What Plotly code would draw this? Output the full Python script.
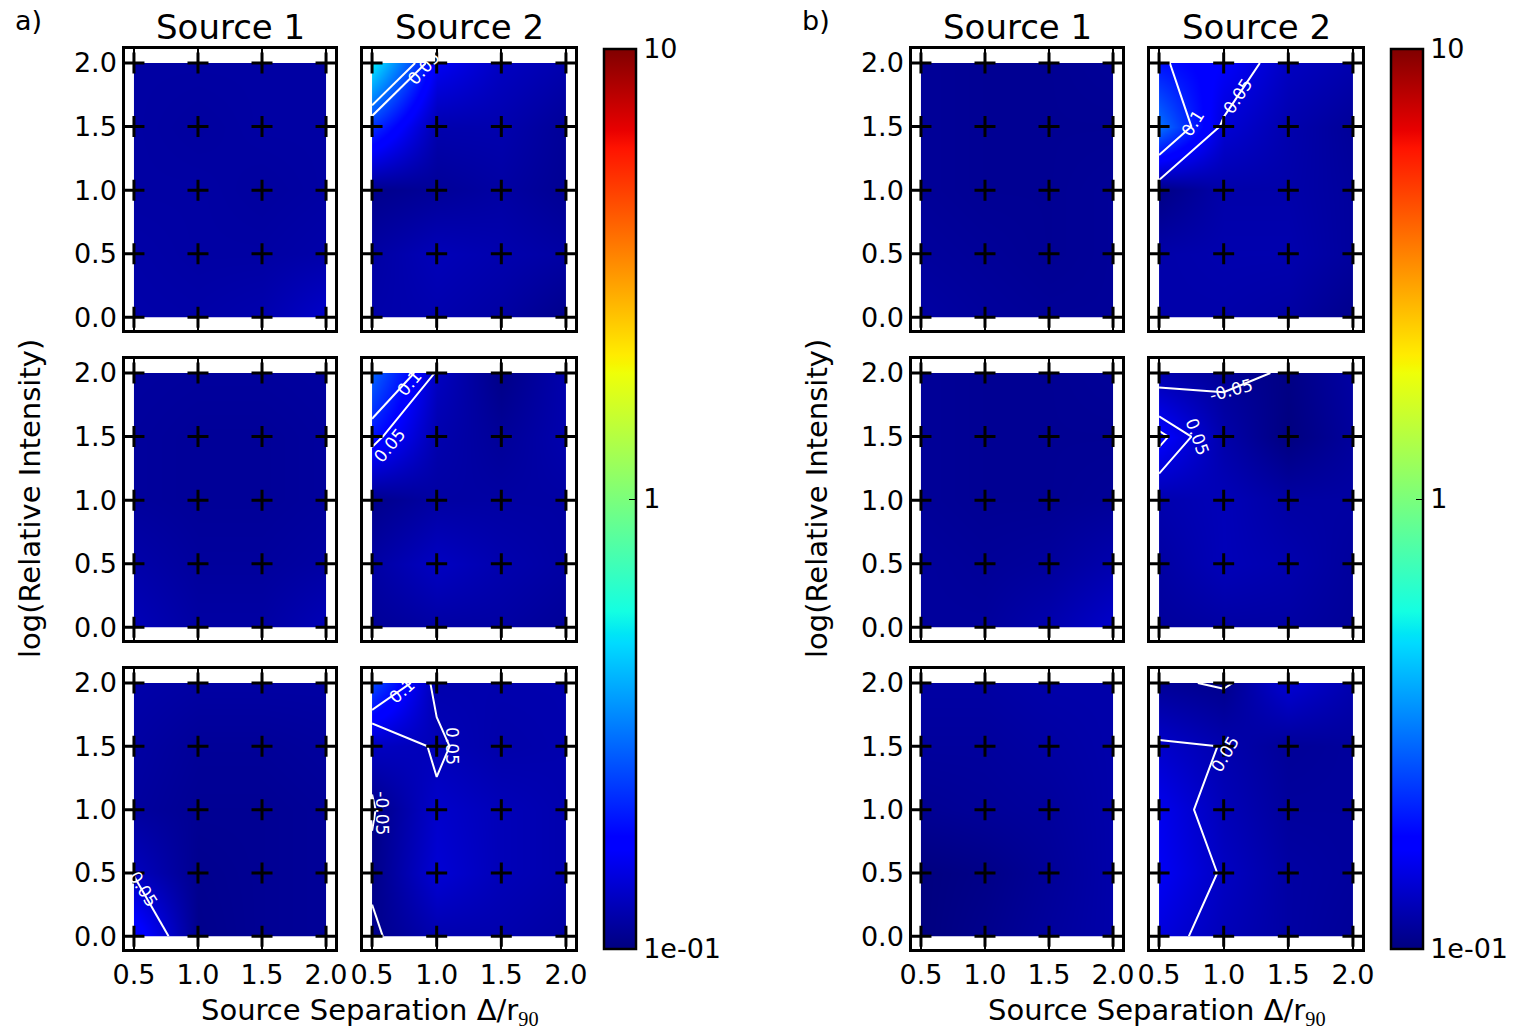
import numpy as np
import plotly.graph_objects as go

# ---------------- data ----------------
SEP = [0.5, 1.0, 1.5, 2.0]              # source separation (x)
LOGI = [0.0, 0.5, 1.0, 1.5, 2.0]        # log relative intensity (y)
X_TICKS = [0.5, 1.0, 1.5, 2.0]
Y_TICKS = [0.0, 0.5, 1.0, 1.5, 2.0]
CB_TICKVALS = [0.1, 1, 10]
CB_TICKTEXT = ['1e-01', '1', '10']
CONTOUR_LEVELS = [-0.05, 0.05, 0.1]
COL_TITLES = ['Source 1', 'Source 2']
GROUP_LABELS = ['a)', 'b)']

# error maps: rows follow LOGI (bottom -> top), columns follow SEP
a_r1_s1 = [[0.118, 0.117, 0.120, 0.135],
           [0.117, 0.115, 0.115, 0.118],
           [0.115, 0.115, 0.113, 0.115],
           [0.115, 0.113, 0.115, 0.115],
           [0.115, 0.115, 0.115, 0.115]]
a_r1_s2 = [[0.118, 0.120, 0.115, 0.105],
           [0.115, 0.125, 0.120, 0.115],
           [0.105, 0.110, 0.115, 0.108],
           [0.220, 0.120, 0.120, 0.110],
           [0.520, 0.160, 0.130, 0.120]]
a_r2_s1 = [[0.125, 0.115, 0.115, 0.125],
           [0.118, 0.112, 0.112, 0.115],
           [0.112, 0.110, 0.110, 0.112],
           [0.112, 0.110, 0.110, 0.112],
           [0.113, 0.112, 0.112, 0.113]]
a_r2_s2 = [[0.110, 0.115, 0.115, 0.110],
           [0.115, 0.130, 0.120, 0.115],
           [0.105, 0.115, 0.115, 0.115],
           [0.190, 0.120, 0.110, 0.120],
           [0.280, 0.130, 0.103, 0.120]]
a_r3_s1 = [[0.185, 0.105, 0.108, 0.110],
           [0.128, 0.106, 0.108, 0.110],
           [0.113, 0.108, 0.108, 0.110],
           [0.115, 0.110, 0.110, 0.112],
           [0.118, 0.115, 0.115, 0.115]]
a_r3_s2 = [[0.105, 0.120, 0.120, 0.115],
           [0.103, 0.140, 0.125, 0.120],
           [0.103, 0.135, 0.125, 0.120],
           [0.130, 0.125, 0.118, 0.120],
           [0.250, 0.120, 0.120, 0.120]]
b_r1_s1 = [[0.115, 0.112, 0.110, 0.110],
           [0.112, 0.110, 0.108, 0.110],
           [0.110, 0.108, 0.108, 0.110],
           [0.110, 0.108, 0.108, 0.108],
           [0.110, 0.108, 0.108, 0.110]]
b_r1_s2 = [[0.118, 0.118, 0.115, 0.105],
           [0.118, 0.120, 0.120, 0.112],
           [0.102, 0.118, 0.118, 0.112],
           [0.300, 0.140, 0.120, 0.110],
           [0.190, 0.165, 0.130, 0.120]]
b_r2_s1 = [[0.112, 0.112, 0.120, 0.135],
           [0.112, 0.110, 0.112, 0.120],
           [0.110, 0.108, 0.108, 0.110],
           [0.110, 0.108, 0.108, 0.108],
           [0.110, 0.108, 0.108, 0.110]]
b_r2_s2 = [[0.112, 0.115, 0.115, 0.110],
           [0.115, 0.125, 0.120, 0.112],
           [0.120, 0.125, 0.115, 0.115],
           [0.170, 0.118, 0.100, 0.112],
           [0.120, 0.110, 0.102, 0.115]]
b_r3_s1 = [[0.100, 0.105, 0.112, 0.118],
           [0.100, 0.103, 0.110, 0.118],
           [0.108, 0.110, 0.112, 0.118],
           [0.112, 0.112, 0.115, 0.118],
           [0.115, 0.115, 0.118, 0.118]]
b_r3_s2 = [[0.145, 0.125, 0.115, 0.110],
           [0.160, 0.130, 0.115, 0.112],
           [0.155, 0.125, 0.112, 0.112],
           [0.135, 0.120, 0.110, 0.112],
           [0.110, 0.105, 0.140, 0.120]]

# bias maps (contoured in white)
a_r1_s2_bias = [[0, 0, 0, 0], [0, 0, 0, 0], [0, 0, 0, 0], [0, 0, 0, 0],
                [0.30, 0, 0, 0]]
a_r2_s2_bias = [[0, 0, 0, 0], [0, 0, 0, 0], [0, 0, 0, 0], [0.06, 0, 0, 0],
                [0.203, 0.045, 0, 0]]
a_r3_s1_bias = [[0.09, 0.016, 0, 0], [0.048, 0, 0, 0], [0, 0, 0, 0],
                [0, 0, 0, 0], [0, 0, 0, 0]]
a_r3_s2_bias = [[-0.06, 0, 0, 0], [-0.04, 0, 0, 0], [-0.055, 0.035, 0, 0],
                [-0.034, 0.064, -0.006, 0], [0.20, 0.0336, 0, 0]]
b_r1_s2_bias = [[0, 0, 0, 0], [0, 0, 0, 0], [0.03, 0, 0, 0],
                [0.157, 0.043, 0, 0], [0.102, 0.09, 0.0186, 0]]
b_r2_s2_bias = [[0, 0, 0, 0], [0, 0, 0, 0], [0, 0, 0, 0],
                [0.12, -0.02, -0.01, 0], [-0.10, -0.063, -0.045, 0]]
b_r3_s2_bias = [[0.085, 0.009, 0, 0], [0.095, 0.045, 0, 0], [0.09, 0.016, 0, 0],
                [0.0594, 0.049, 0, 0], [-0.035, -0.06, 0.0114, 0]]

PANELS = [  # group, row, col, values, bias
    (0, 0, 0, a_r1_s1, None), (0, 0, 1, a_r1_s2, a_r1_s2_bias),
    (0, 1, 0, a_r2_s1, None), (0, 1, 1, a_r2_s2, a_r2_s2_bias),
    (0, 2, 0, a_r3_s1, a_r3_s1_bias), (0, 2, 1, a_r3_s2, a_r3_s2_bias),
    (1, 0, 0, b_r1_s1, None), (1, 0, 1, b_r1_s2, b_r1_s2_bias),
    (1, 1, 0, b_r2_s1, None), (1, 1, 1, b_r2_s2, b_r2_s2_bias),
    (1, 2, 0, b_r3_s1, None), (1, 2, 1, b_r3_s2, b_r3_s2_bias),
]

# ---------------- style / layout ----------------
W, H = 1520, 1031
FONT = 'DejaVu Sans'
XR = [0.43, 2.07]
YR = [-0.1, 2.11]
COL_PX = [[(125, 335), (363, 575)], [(912, 1122), (1150, 1362)]]
ROW_PX = [(49, 330), (359, 640), (669, 949)]
CB_X_PX = [604, 1391]
CB_Y_PX = (49, 949)

# contour-label placement: panel index -> (text, x, y, angle)
CLABELS = {
    1: [('0.05', 0.90, 1.96, -48)],
    3: [('0.1', 0.79, 1.92, -50), ('0.05', 0.64, 1.43, -50)],
    4: [('0.05', 0.57, 0.37, 58)],
    5: [('0.1', 0.73, 1.94, -42), ('0.05', 1.12, 1.50, 90), ('-0.05', 0.57, 0.97, 90)],
    7: [('0.1', 0.76, 1.53, -58), ('0.05', 1.11, 1.74, -57)],
    9: [('-0.05', 1.06, 1.87, -15), ('0.05', 0.80, 1.50, 70)],
    11: [('0.05', 1.01, 1.44, -60)],
}

JET = [
    [0.0, 'rgb(0,0,128)'], [0.11, 'rgb(0,0,255)'], [0.125, 'rgb(0,0,255)'],
    [0.34, 'rgb(0,219,255)'], [0.35, 'rgb(0,229,246)'], [0.375, 'rgb(20,255,226)'],
    [0.64, 'rgb(239,255,8)'], [0.65, 'rgb(247,245,0)'], [0.66, 'rgb(255,236,0)'],
    [0.89, 'rgb(255,19,0)'], [0.91, 'rgb(232,0,0)'], [1.0, 'rgb(128,0,0)'],
]


def px2x(p):
    return p / W


def px2y(p):
    return 1 - p / H


fig = go.Figure()
layout = dict(
    width=W, height=H, margin=dict(l=0, r=0, t=0, b=0, pad=0, autoexpand=False),
    paper_bgcolor='white', plot_bgcolor='white', showlegend=False,
    font=dict(family=FONT, size=27, color='black'),
)

xs, ys = np.meshgrid(SEP, LOGI)
xmin, xmax, ymin, ymax = min(SEP), max(SEP), min(LOGI), max(LOGI)
mask_x = [XR[0], xmin, xmin, XR[0], XR[0], None,
          xmax, XR[1], XR[1], xmax, xmax, None,
          xmin, xmax, xmax, xmin, xmin, None,
          xmin, xmax, xmax, xmin, xmin]
mask_y = [YR[0], YR[0], YR[1], YR[1], YR[0], None,
          YR[0], YR[0], YR[1], YR[1], YR[0], None,
          YR[0], YR[0], ymin, ymin, YR[0], None,
          ymax, ymax, YR[1], YR[1], ymax]

ann = []
for i, (g, r, c, vals, bias) in enumerate(PANELS):
    n = i + 1
    xa = 'x' if n == 1 else f'x{n}'
    ya = 'y' if n == 1 else f'y{n}'
    cax = 'coloraxis' if g == 0 else 'coloraxis2'
    fig.add_trace(go.Heatmap(x=SEP, y=LOGI, z=np.log10(np.array(vals)),
                             coloraxis=cax, zsmooth='best', xaxis=xa, yaxis=ya,
                             hoverinfo='skip'))
    fig.add_trace(go.Scatter(x=mask_x, y=mask_y, mode='lines', fill='toself',
                             fillcolor='white', line=dict(width=0),
                             xaxis=xa, yaxis=ya, hoverinfo='skip'))
    if bias is not None:
        for lev in CONTOUR_LEVELS:
            fig.add_trace(go.Contour(
                x=SEP, y=LOGI, z=bias, autocontour=False,
                contours=dict(start=lev, end=lev, size=0.05, coloring='none',
                              showlabels=False),
                line=dict(color='white', width=2, smoothing=0), showscale=False,
                xaxis=xa, yaxis=ya, hoverinfo='skip'))
    fig.add_trace(go.Scatter(x=xs.ravel(), y=ys.ravel(), mode='markers',
                             marker=dict(symbol='cross-thin', size=15,
                                         line=dict(width=3, color='black')),
                             xaxis=xa, yaxis=ya, hoverinfo='skip'))
    for (txt, lx, ly, ang) in CLABELS.get(i, []):
        ann.append(dict(text=txt, x=lx, y=ly, xref=xa, yref=ya, showarrow=False,
                        textangle=ang, xanchor='center', yanchor='middle',
                        font=dict(size=17, family=FONT, color='white')))

    x0, x1 = COL_PX[g][c]
    y0, y1 = ROW_PX[r]
    common = dict(showline=True, linewidth=2.5, linecolor='black', mirror='ticks',
                  ticks='inside', ticklen=8, tickwidth=1.5, tickcolor='black',
                  showgrid=False, zeroline=False, fixedrange=True, automargin=False,
                  tickfont=dict(size=27, family=FONT, color='black'))
    layout['xaxis' if n == 1 else f'xaxis{n}'] = dict(
        common, domain=[px2x(x0), px2x(x1)], range=XR, anchor=ya,
        tickvals=X_TICKS, ticktext=[f'{v:.1f}' for v in X_TICKS],
        showticklabels=(r == 2))
    layout['yaxis' if n == 1 else f'yaxis{n}'] = dict(
        common, domain=[px2y(y1), px2y(y0)], range=YR, anchor=xa,
        tickvals=Y_TICKS, ticktext=[f'{v:.1f}' for v in Y_TICKS],
        showticklabels=(c == 0))

for g in range(2):
    key = 'coloraxis' if g == 0 else 'coloraxis2'
    layout[key] = dict(
        colorscale=JET, cmin=np.log10(CB_TICKVALS[0]), cmax=np.log10(CB_TICKVALS[-1]),
        colorbar=dict(
            x=px2x(CB_X_PX[g]), xanchor='left', xpad=0,
            y=px2y((CB_Y_PX[0] + CB_Y_PX[1]) / 2), yanchor='middle', ypad=0,
            len=(CB_Y_PX[1] - CB_Y_PX[0]) / H, lenmode='fraction',
            thickness=32, thicknessmode='pixels',
            outlinewidth=2.5, outlinecolor='black',
            ticks='inside', ticklen=8, tickwidth=1.2, tickcolor='black',
            tickvals=list(np.log10(CB_TICKVALS)), ticktext=CB_TICKTEXT,
            tickfont=dict(size=27, family=FONT, color='black')))

for g in range(2):
    for c in range(2):
        x0, x1 = COL_PX[g][c]
        ann.append(dict(text=COL_TITLES[c], x=px2x((x0 + x1) / 2), y=px2y(27),
                        xref='paper', yref='paper', xanchor='center',
                        yanchor='middle', showarrow=False,
                        font=dict(size=34, family=FONT, color='black')))
    gx = COL_PX[g][0][0]
    ann.append(dict(text=GROUP_LABELS[g], x=px2x(gx - 112), y=px2y(20),
                    xref='paper', yref='paper', xanchor='left', yanchor='middle',
                    showarrow=False, font=dict(size=27, family=FONT, color='black')))
    ann.append(dict(text='log(Relative Intensity)', x=px2x(gx - 95),
                    y=px2y((ROW_PX[0][0] + ROW_PX[2][1]) / 2),
                    xref='paper', yref='paper', xanchor='center', yanchor='middle',
                    textangle=-90, showarrow=False,
                    font=dict(size=29, family=FONT, color='black')))
    ann.append(dict(text='Source Separation Δ/r<sub><span style="font-family:Liberation Serif">90</span></sub>',
                    x=px2x((COL_PX[g][0][0] + COL_PX[g][1][1]) / 2 + 20), y=px2y(1011),
                    xref='paper', yref='paper', xanchor='center', yanchor='middle',
                    showarrow=False, font=dict(size=29, family=FONT, color='black')))
layout['annotations'] = ann

fig.update_layout(**layout)
fig.write_html('out.html', config={'displayModeBar': False},
               post_script="document.body.style.margin='0';document.body.style.padding='0';")
